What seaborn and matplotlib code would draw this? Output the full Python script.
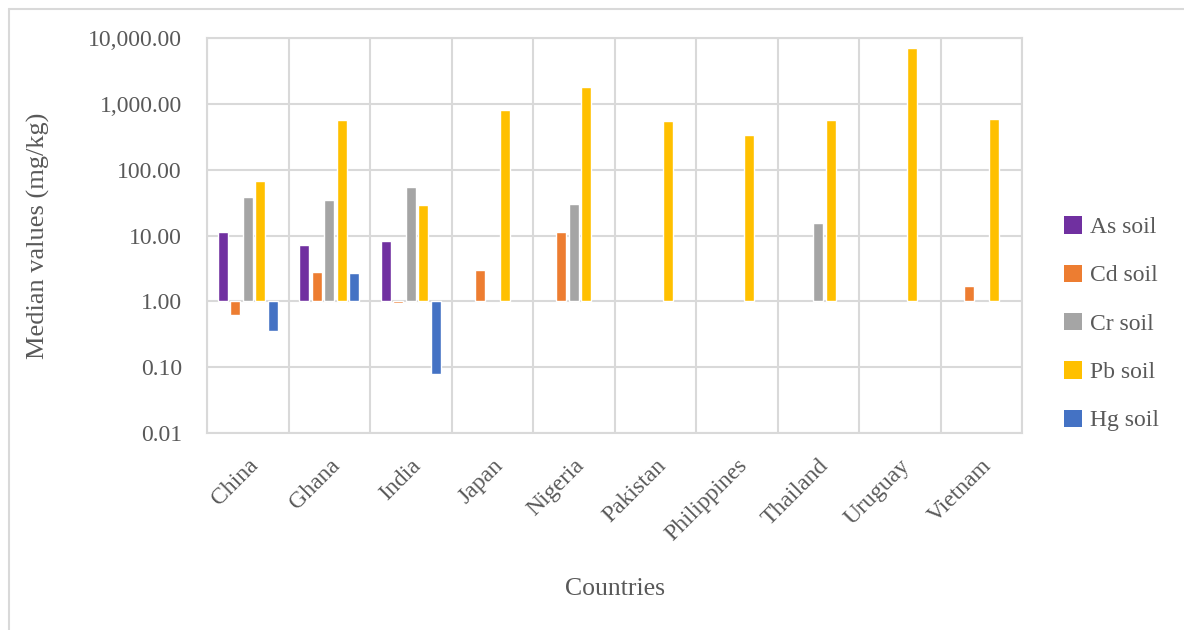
import numpy as np
import pandas as pd
import matplotlib.pyplot as plt
from matplotlib.lines import Line2D
from matplotlib.patches import Patch
import seaborn as sns

countries = ["China", "Ghana", "India", "Japan", "Nigeria", "Pakistan",
             "Philippines", "Thailand", "Uruguay", "Vietnam"]
series = ["As soil", "Cd soil", "Cr soil", "Pb soil", "Hg soil"]
colors = ["#7030a0", "#ed7d31", "#a5a5a5", "#ffc000", "#4472c4"]

nan = np.nan
as_soil = [11.3, 7.2, 8.3, nan, nan, nan, nan, nan, nan, nan]
cd_soil = [0.62, 2.8, 0.93, 3.0, 11.4, nan, nan, nan, nan, 1.69]
cr_soil = [38.5, 34.6, 54.0, nan, 30.0, nan, nan, 15.7, nan, nan]
pb_soil = [67.0, 575.0, 28.7, 806.0, 1780.0, 555.0, 339.0, 575.0, 7050.0, 582.0]
hg_soil = [0.35, 2.7, 0.08, nan, nan, nan, nan, nan, nan, nan]

ytick_vals = [0.01, 0.1, 1, 10, 100, 1000, 10000]

# long table; bars drawn on log10 scale so that they start at 1 (like Excel)
rows = []
for name, vals in zip(series, [as_soil, cd_soil, cr_soil, pb_soil, hg_soil]):
    for c, v in zip(countries, vals):
        rows.append({"country": c, "metal": name, "logv": np.log10(v)})
df = pd.DataFrame(rows)

sns.set_style("white")
plt.rcParams["font.family"] = ["Liberation Serif", "DejaVu Serif"]
txt = "#595959"
grid = "#d9d9d9"

fig = plt.figure(figsize=(11.84, 6.3), dpi=100)
ax = fig.add_axes([207 / 1184, 1 - 433 / 630, 815 / 1184, 395 / 630])

sns.barplot(data=df, x="country", y="logv", hue="metal", order=countries,
            hue_order=series, palette=colors, width=0.77, gap=0.2,
            saturation=1, ax=ax, legend=False)

ax.set_xlim(-0.5, len(countries) - 0.5)
ax.set_ylim(-2, 4)
ax.set_yticks(np.log10(ytick_vals))
ax.set_yticklabels([f"{v:,.2f}" for v in ytick_vals])
ax.set_xticks(np.arange(-0.5, len(countries)), minor=True)
ax.grid(True, which="major", axis="y", color=grid, lw=1.5)
ax.grid(True, which="minor", axis="x", color=grid, lw=1.5)
ax.set_axisbelow(True)
for s in ax.spines.values():
    s.set_color(grid)
    s.set_linewidth(1.5)
ax.tick_params(axis="both", which="both", length=0, colors=txt, labelsize=17)
ax.tick_params(axis="y", pad=18)
plt.setp(ax.get_xticklabels(), rotation=45, ha="right", rotation_mode="anchor")
ax.tick_params(axis="x", pad=16)

ax.set_xlabel("Countries", fontsize=18.5, color=txt)
ax.set_ylabel("Median values (mg/kg)", fontsize=19, color=txt)
ax.xaxis.set_label_coords(0.5, -(578 - 433) / 395)
ax.yaxis.set_label_coords(-(207 - 50) / 815, 0.5)

handles = [Patch(facecolor=c, edgecolor="none") for c in colors]
fig.legend(handles, series, loc="upper left", bbox_to_anchor=(1043 / 1184, 1 - 195 / 630),
           frameon=False, fontsize=17, handlelength=0.75, handleheight=0.75,
           handletextpad=0.35, labelspacing=1.12, labelcolor=txt)

# chart border (Excel chart area)
fig.add_artist(Line2D([9 / 1184, 1], [1 - 9 / 630, 1 - 9 / 630], color=grid, lw=1.5))
fig.add_artist(Line2D([9 / 1184, 9 / 1184], [0, 1 - 9 / 630], color=grid, lw=1.5))

fig.savefig("out.png", dpi=100)
